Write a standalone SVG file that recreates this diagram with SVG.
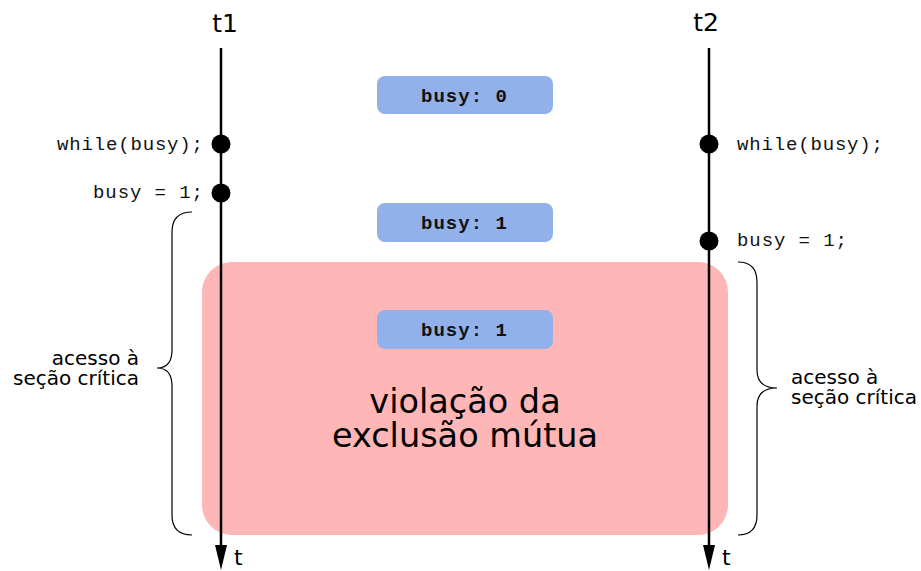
<svg xmlns="http://www.w3.org/2000/svg" width="921" height="571" viewBox="0 0 921 571">
<defs>
<style>
.sans{font-family:"DejaVu Sans",sans-serif;fill:#000}
.mono{font-family:"Liberation Mono","Courier New",monospace;font-size:19px;fill:#111}
.box{fill:#92b1ea}
.boxt{font-family:"Liberation Mono","Courier New",monospace;font-size:19px;font-weight:bold;fill:#111}
.tl{stroke:#000;stroke-width:2.5;fill:none}
.brace{stroke:#000;stroke-width:1.2;fill:none}
.dot{fill:#000}
</style>
</defs>
<rect width="921" height="571" fill="#fff"/>
<g id="violation">
<rect x="202" y="262" width="526" height="273" rx="30" ry="30" fill="#ffb6b6"/>
<text class="sans" font-size="33.5" x="465" y="413" text-anchor="middle">violação da</text>
<text class="sans" font-size="33.5" x="465" y="447" text-anchor="middle">exclusão mútua</text>
</g>
<g id="connectors">
<line id="t1-line" class="tl" x1="221" y1="48" x2="221" y2="546"/>
<path d="M215,545 L227,545 L221,570 Z" fill="#000"/>
<line id="t2-line" class="tl" x1="709" y1="48" x2="709" y2="546"/>
<path d="M703,545 L715,545 L709,570 Z" fill="#000"/>
</g>
<g id="t1">
<text class="sans" font-size="25" x="225" y="32" text-anchor="middle">t1</text>
<text class="sans" font-size="22" x="234" y="565">t</text>
</g>
<g id="t2">
<text class="sans" font-size="25" x="706" y="31" text-anchor="middle">t2</text>
<text class="sans" font-size="22" x="722" y="565">t</text>
</g>
<g id="t1-while">
<circle class="dot" cx="221" cy="144" r="9.5"/>
<text class="mono" x="203" y="150" text-anchor="end" textLength="146">while(busy);</text>
</g>
<g id="t1-set">
<circle class="dot" cx="221" cy="193" r="9.5"/>
<text class="mono" x="203" y="198" text-anchor="end" textLength="110">busy = 1;</text>
</g>
<g id="t2-while">
<circle class="dot" cx="709" cy="144" r="9.5"/>
<text class="mono" x="737" y="150" textLength="146">while(busy);</text>
</g>
<g id="t2-set">
<circle class="dot" cx="709" cy="241" r="9.5"/>
<text class="mono" x="737" y="246" textLength="110">busy = 1;</text>
</g>
<g id="busy0">
<rect class="box" x="377" y="76" width="176" height="38" rx="8" ry="8"/>
<text class="boxt" x="464" y="102" text-anchor="middle" textLength="86">busy: 0</text>
</g>
<g id="busy1a">
<rect class="box" x="377" y="203" width="176" height="39" rx="8" ry="8"/>
<text class="boxt" x="464" y="229" text-anchor="middle" textLength="86">busy: 1</text>
</g>
<g id="busy1b">
<rect class="box" x="377" y="310" width="176" height="39" rx="8" ry="8"/>
<text class="boxt" x="464" y="336" text-anchor="middle" textLength="86">busy: 1</text>
</g>
<g id="brace-left">
<path class="brace" d="M192,212 Q172,212 172,232 L172,350 Q172,368 157,368 Q172,368 172,386 L172,515 Q172,535 192,535"/>
<text class="sans" font-size="20" x="139" y="365" text-anchor="end">acesso à</text>
<text class="sans" font-size="20" x="139" y="385" text-anchor="end">seção crítica</text>
</g>
<g id="brace-right">
<path class="brace" d="M738,262 Q757,262 757,282 L757,370 Q757,388 777,388 Q757,388 757,406 L757,515 Q757,535 738,535"/>
<text class="sans" font-size="20" x="791" y="384">acesso à</text>
<text class="sans" font-size="20" x="791" y="404">seção crítica</text>
</g>
</svg>
